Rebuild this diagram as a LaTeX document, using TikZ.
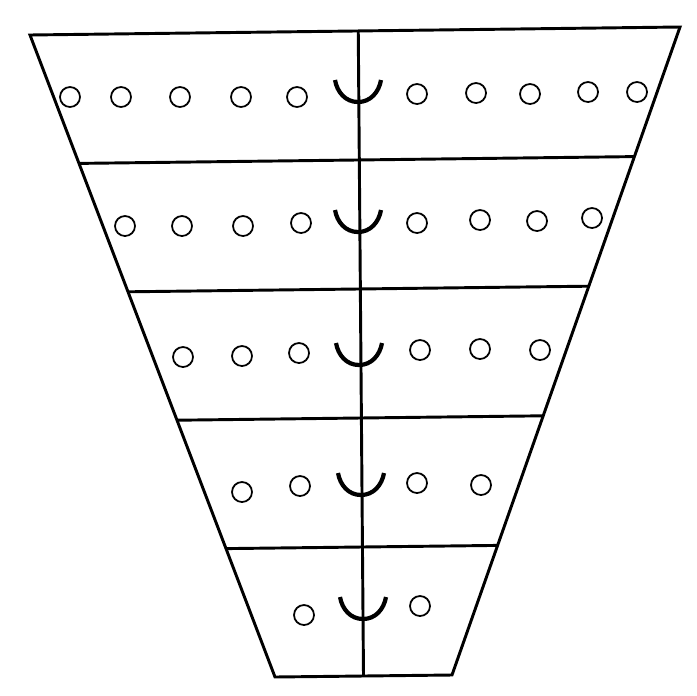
\documentclass[tikz,border=0pt]{standalone}
\usetikzlibrary{calc}
\begin{document}
\begin{tikzpicture}[x=0.03cm, y=-0.03cm,
    bordo/.style={line width=2.5pt, line join=miter},
    foro/.style={circle, draw, line width=1.5pt, minimum size=0.6cm, inner sep=0pt},
    coppa/.style={line width=3.6pt}]
        \useasboundingbox (0,0) rectangle (697,695);
        %disegno trapezio
        \coordinate (as) at (30,35);
        \coordinate (ad) at (680,27);
        \coordinate (bs) at (275,677);
        \coordinate (bd) at (452,675);
        \draw[bordo] (as) -- (ad) -- (bd) -- (bs) -- cycle;
        %disegno asse centrale
        \coordinate (ca) at ($(as)!0.505!(ad)$);
        \coordinate (cb) at ($(bs)!0.5!(bd)$);
        \draw[bordo] (ca) -- (cb);
        %disegno linee orizzontali
        \foreach \t in {0.2,0.4,0.6,0.8}
            \draw[bordo] ($(as)!\t!(bs)$) -- ($(ad)!\t!(bd)$);
        %disegno fori prima fila
        \foreach \x/\y [count=\i] in {70/97,121/97,180/97,241/97,297/97,417/94,476/93,530/94,588/92,637/92}
            \node[foro] (f1-\i) at (\x,\y) {};
        %disegno fori seconda fila
        \foreach \x/\y [count=\i] in {125/226,182/226,243/226,301/223,417/223,480/220,537/221,592/218}
            \node[foro] (f2-\i) at (\x,\y) {};
        %disegno fori terza fila
        \foreach \x/\y [count=\i] in {183/357,242/356,299/353,420/350,480/349,540/350}
            \node[foro] (f3-\i) at (\x,\y) {};
        %disegno fori quarta fila
        \foreach \x/\y [count=\i] in {242/492,300/486,417/483,481/485}
            \node[foro] (f4-\i) at (\x,\y) {};
        %disegno fori quinta fila
        \foreach \x/\y [count=\i] in {304/615,420/606}
            \node[foro] (f5-\i) at (\x,\y) {};
        %disegno coppe sull'asse
        \foreach \x/\y in {358/80,358/210,359/343,361/473,363/597}
            \draw[coppa] (\x-23,\y) to[out=-80, in=180] (\x,\y+22) to[out=0, in=-100] (\x+23,\y);
    \end{tikzpicture}
\end{document}
